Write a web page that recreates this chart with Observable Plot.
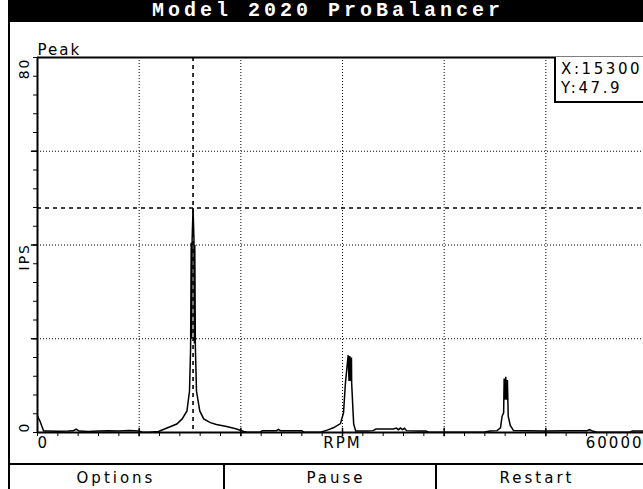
<!DOCTYPE html>
<html><head><meta charset="utf-8">
<script src="https://cdn.jsdelivr.net/npm/d3@7"></script>
<script src="https://cdn.jsdelivr.net/npm/@observablehq/plot@0.6"></script>
<style>
html,body{margin:0;padding:0;background:#fff;overflow:hidden;}
#frame{position:relative;width:643px;height:489px;overflow:hidden;font-family:"DejaVu Sans",sans-serif;color:#000;}
#title{position:absolute;left:8px;top:0;width:700px;height:22px;background:#000;}
#title span{position:absolute;left:320px;top:0;transform:translateX(-50%);white-space:nowrap;color:#fff;font:bold 20px "Liberation Mono",monospace;letter-spacing:4px;line-height:22px;}
#border{position:absolute;left:8px;top:22px;width:2px;height:467px;background:#000;}
#chart{position:absolute;left:0;top:21px;width:660px;height:443px;}
#chart svg{max-width:none !important;width:660px;height:443px;}
#chart text{letter-spacing:2px;}
#chart text.ylab{letter-spacing:1px;}
#sep{position:absolute;left:8px;top:463px;width:700px;height:2px;background:#000;}
.div{position:absolute;top:465px;width:2px;height:24px;background:#000;}
.btn{position:absolute;top:465px;height:24px;line-height:26px;font-size:15px;letter-spacing:3px;transform:translateX(-50%);white-space:nowrap;}
#cursor{position:absolute;left:554px;top:57px;width:120px;height:46px;border-left:2px solid #000;border-bottom:2px solid #000;font-size:15px;letter-spacing:2.6px;line-height:19px;padding:3px 0 0 5px;box-sizing:border-box;white-space:nowrap;background:#fff;}
</style></head>
<body>
<div id="frame">
  <div id="title"><span id="titleText"></span></div>
  <div id="border"></div>
  <div id="chart"></div>
  <div id="cursor"></div>
  <div id="sep"></div>
  <div class="div" style="left:223px"></div>
  <div class="div" style="left:435px"></div>
  <div class="btn" style="left:116px" id="b0"></div>
  <div class="btn" style="left:336px" id="b1"></div>
  <div class="btn" style="left:537px" id="b2"></div>
</div>
<script>
// ---- data ----
const titleText = "Model 2020 ProBalancer";
const buttonLabels = ["Options", "Pause", "Restart"];
const panelLabel = "Peak";
const xAxisLabel = "RPM";
const yAxisLabel = "IPS";
const xTickLabelValues = [0, 60000];
const xTickLabels = ["0", "60000"];
const yTickLabelValues = [0, 80];
const yTickLabels = ["0", "80"];
const xGrid = [10000, 20000, 30000, 40000, 50000];
const yGrid = [20, 40, 60];
const xMinorTicks = d3.range(0, 60001, 2000);
const yMinorTicks = d3.range(0, 81, 4);
const cursorRpm = 15300;
const cursorIps = 47.9;

const rpm = [0,250,600,1000,2000,3000,3500,3800,4100,5000,6000,7000,8000,9000,10000,10300,11000,11900,12800,13700,14230,14700,14950,15060,15120,15160,15210,15300,15390,15430,15470,15530,15640,15960,16350,17000,17600,18600,19500,20300,20600,21900,22100,23500,23700,23900,26000,26200,27900,28500,29100,29800,30100,30290,30560,30640,30720,30800,30880,30900,31000,31100,31300,32500,33000,33300,35000,35300,35500,35700,35900,36100,36300,37500,38200,38500,44000,44500,45200,45540,45700,45850,45900,45980,46060,46140,46220,46300,46500,46820,48000,50000,52000,54000,54300,54600,55000,58300,58500,60000];
const ips = [3.5,2.4,0.3,0.3,0.25,0.3,0.35,0.7,0.3,0.2,0.3,0.35,0.3,0.4,0.3,0.05,0.05,0.2,1.0,1.8,2.9,4.6,8.8,18,40.5,20,41.2,47.9,41.2,19,40,18,8.8,4.6,2.9,2.1,1.7,1.3,0.8,0.2,0.05,0.05,0.4,0.4,0.65,0.4,0.4,0.05,0.1,0.5,1.0,1.9,4.2,10.6,16.5,11,16.3,11,16,10.6,6.1,1.8,0.3,0.3,0.4,0.75,0.75,0.95,0.6,0.95,0.6,0.9,0.4,0.3,0.3,0.05,0.1,0.3,0.4,1.0,3.5,4.2,11.5,7,11.9,7,11.2,3.5,1.5,0.4,0.35,0.3,0.35,0.35,0.6,0.3,0.05,0.05,0.3,0.3];

const spectrum = rpm.map((r, i) => ({rpm: r, ips: ips[i]}));
const xLabelRows = xTickLabelValues.map((v, i) => ({value: v, label: xTickLabels[i]}));
const yLabelRows = yTickLabelValues.map((v, i) => ({value: v, label: yTickLabels[i]}));
const yTitleRows = [{value: 37.5, label: yAxisLabel}];

document.getElementById("titleText").textContent = titleText;
buttonLabels.forEach((b, i) => document.getElementById("b" + i).textContent = b);
document.getElementById("cursor").innerHTML = "X:" + cursorRpm + "<br>Y:" + cursorIps.toFixed(1);

const chart = Plot.plot({
  width: 660,
  height: 443,
  marginLeft: 37,
  marginRight: 13,
  marginTop: 36,
  marginBottom: 32,
  x: {domain: [0, 60000], axis: null},
  y: {domain: [0, 80], axis: null},
  style: {fontFamily: "DejaVu Sans", fontSize: "15px", color: "#000", background: "transparent", overflow: "visible", maxWidth: "none"},
  marks: [
    Plot.ruleX(xGrid, {stroke: "#000", strokeWidth: 1, strokeDasharray: "1,2"}),
    Plot.ruleY(yGrid, {stroke: "#000", strokeWidth: 1, strokeDasharray: "1,2"}),
    Plot.ruleX([cursorRpm], {stroke: "#000", strokeWidth: 1.6, strokeDasharray: "4,4"}),
    Plot.ruleY([cursorIps], {stroke: "#000", strokeWidth: 1.6, strokeDasharray: "4,4"}),
    Plot.axisX({ticks: xMinorTicks, tickSize: 4, tickFormat: () => "", stroke: "#000"}),
    Plot.axisY({ticks: yMinorTicks, tickSize: 4, tickFormat: () => "", stroke: "#000"}),
    Plot.ruleX(xGrid, {y1: -0.9, y2: 0.9, stroke: "#000", strokeWidth: 1.5}),
    Plot.ruleY(yGrid, {x1: -600, x2: 0, stroke: "#000", strokeWidth: 1.5}),
    Plot.line(spectrum, {x: "rpm", y: "ips", stroke: "#000", strokeWidth: 1.5, strokeLinejoin: "miter", strokeMiterlimit: 2}),
    Plot.ruleY([0], {stroke: "#000", strokeWidth: 2}),
    Plot.ruleX([0], {stroke: "#000", strokeWidth: 2}),
    Plot.ruleY([80], {stroke: "#000", strokeWidth: 2}),
    Plot.text([xLabelRows[0]], {x: "value", text: "label", frameAnchor: "bottom", dy: 15, textAnchor: "start", fill: "#000"}),
    Plot.text([xLabelRows[1]], {x: "value", text: "label", frameAnchor: "bottom", dy: 15, dx: -4, textAnchor: "end", fill: "#000"}),
    Plot.text([xAxisLabel], {x: 30000, text: d => d, frameAnchor: "bottom", dy: 15, fill: "#000"}),
    Plot.text([yLabelRows[0]], {y: "value", text: "label", frameAnchor: "left", dx: -13, textAnchor: "start", rotate: -90, fontSize: 14, fill: "#000", className: "ylab"}),
    Plot.text([yLabelRows[1]], {y: "value", text: "label", frameAnchor: "left", dx: -13, textAnchor: "end", rotate: -90, fontSize: 14, fill: "#000", className: "ylab"}),
    Plot.text(yTitleRows, {y: "value", text: "label", frameAnchor: "left", dx: -13, textAnchor: "middle", rotate: -90, fontSize: 14, fill: "#000", className: "ylab"}),
    Plot.text([panelLabel], {text: d => d, frameAnchor: "top-left", textAnchor: "start", lineAnchor: "bottom", dx: 0, dy: -3, fill: "#000"})
  ]
});
document.getElementById("chart").appendChild(chart);
</script>
</body></html>
